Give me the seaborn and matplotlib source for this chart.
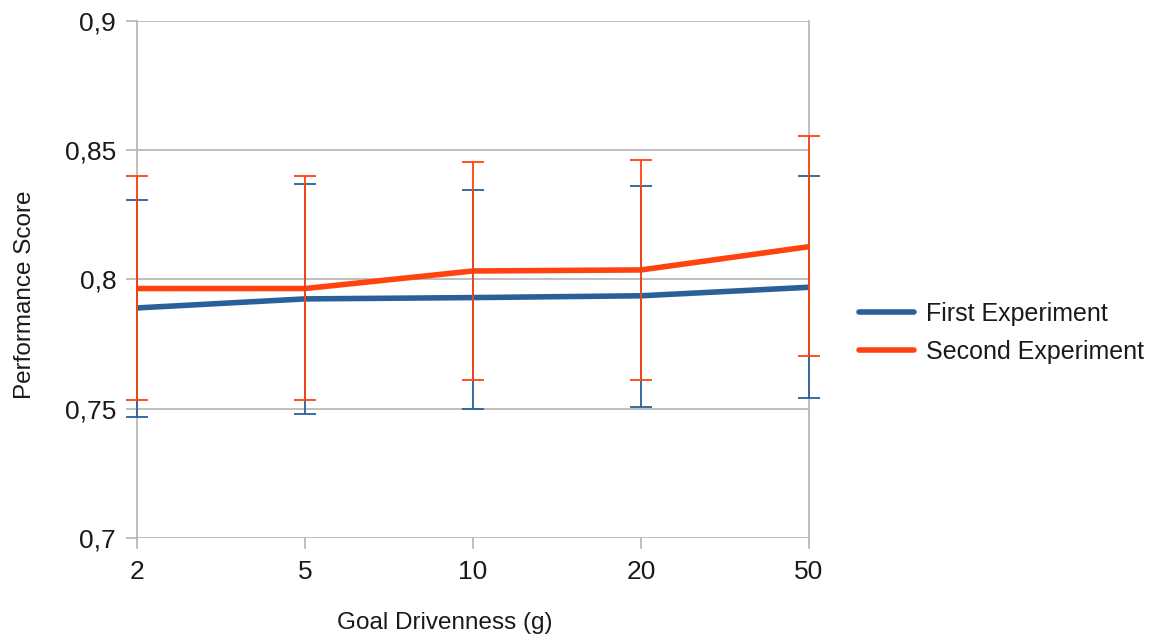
import matplotlib
matplotlib.use("Agg")
import matplotlib.pyplot as plt
import seaborn as sns
import pandas as pd
import numpy as np
from matplotlib.ticker import FuncFormatter

categories = ["2", "5", "10", "20", "50"]
first_mean = [0.789, 0.7925, 0.793, 0.7937, 0.797]
first_upper = [0.8308, 0.837, 0.8346, 0.836, 0.840]
first_lower = [0.747, 0.748, 0.750, 0.7508, 0.754]
second_mean = [0.7965, 0.7965, 0.8033, 0.8037, 0.8127]
second_upper = [0.840, 0.840, 0.8453, 0.8462, 0.8556]
second_lower = [0.7534, 0.7534, 0.761, 0.761, 0.7704]
series_names = ["First Experiment", "Second Experiment"]
colors = ["#2a6099", "#ff420e"]

sns.set_theme(style="white")
plt.rcParams['font.family'] = ['Liberation Sans', 'DejaVu Sans']

fig = plt.figure(figsize=(11.65, 6.37), dpi=100)
ax = fig.add_axes([137/1165, 1 - 538/637, (809-137)/1165, (538-21)/637])

xpos = np.arange(len(categories))
df = pd.DataFrame({
    "x": np.concatenate([xpos, xpos]),
    "y": first_mean + second_mean,
    "series": [series_names[0]]*5 + [series_names[1]]*5,
})

sns.lineplot(data=df, x="x", y="y", hue="series", palette=colors, ax=ax,
             linewidth=4, legend=True, zorder=3)

# error bars
for mean, lo, hi, c in [(first_mean, first_lower, first_upper, colors[0]),
                        (second_mean, second_lower, second_upper, colors[1])]:
    mean = np.array(mean); lo = np.array(lo); hi = np.array(hi)
    eb = ax.errorbar(xpos, mean, yerr=[mean - lo, hi - mean], fmt="none",
                     ecolor=c, elinewidth=1.3, capsize=8, capthick=1.3, zorder=4)
    for art in eb.lines[1]:
        art.set_clip_on(False)
    for art in eb.lines[2]:
        art.set_clip_on(False)

ax.set_xlim(0, 4)
ax.set_ylim(0.7, 0.9)
ax.set_yticks([0.7, 0.75, 0.8, 0.85, 0.9])
ax.yaxis.set_major_formatter(FuncFormatter(lambda v, p: ("%g" % round(v, 2)).replace(".", ",")))
ax.set_xticks(xpos)
ax.set_xticklabels(categories)
ax.yaxis.grid(True, color="#b3b3b3", linewidth=1.2)
ax.xaxis.grid(False)
for s in ["top", "bottom"]:
    ax.spines[s].set_visible(False)
for s in ["left", "right"]:
    ax.spines[s].set_color("#b3b3b3")
    ax.spines[s].set_linewidth(1.2)
ax.tick_params(axis="both", which="both", length=8, width=1.2, color="#b3b3b3",
               labelsize=19, labelcolor="#1a1a1a", left=True, bottom=True)
ax.tick_params(axis="y", pad=7)
ax.tick_params(axis="x", pad=8)
ax.set_xlabel("Goal Drivenness (g)", fontsize=17.5, color="#1a1a1a", labelpad=20)
ax.set_ylabel("Performance Score", fontsize=17.5, color="#1a1a1a", labelpad=21)
ax.xaxis.label.set_x((444.5 - 137) / 672)
ax.yaxis.label.set_y((538 - 295) / 517)

handles, labels = ax.get_legend_handles_labels()
leg = ax.legend(handles, labels, loc="center left",
                bbox_to_anchor=(1.060, (538 - 333) / 517),
                frameon=False, fontsize=18, handlelength=2.2, handletextpad=0.45,
                labelspacing=0.55, borderaxespad=0)
for line in leg.get_lines():
    line.set_linewidth(4)
for t in leg.get_texts():
    t.set_color("#1a1a1a")

fig.savefig("out.png", dpi=100)
